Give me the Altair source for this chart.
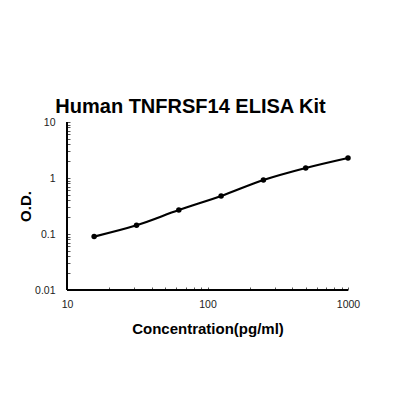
import altair as alt
import pandas as pd

conc = [15.6, 31.25, 62.5, 125, 250, 500, 1000]
od = [0.09, 0.143, 0.268, 0.477, 0.92, 1.51, 2.28]

x_ticks = [d * m for d in [10, 100] for m in range(1, 10)] + [1000]
y_ticks = [d * m for d in [0.01, 0.1, 1] for m in range(1, 10)] + [10]
x_domain = [10, 1000]
y_domain = [0.01, 10]

df = pd.DataFrame({"conc": conc, "od": od})

FONT = "Liberation Sans"

xscale = alt.Scale(type="log", domain=x_domain)
yscale = alt.Scale(type="log", domain=y_domain)

x_axis = alt.Axis(
    values=x_ticks, format="~g",
    labelExpr="datum.value == 10 || datum.value == 100 || datum.value == 1000 ? datum.label : ''",
    labelOverlap=False, labelFlush=False, grid=False, domain=False,
    offset=-3, tickSize=3, tickColor="#555", labelPadding=9,
    labelFontSize=10.5, labelColor="#222", labelFont=FONT,
    title="Concentration(pg/ml)", titleFont=FONT, titleFontSize=15,
    titleFontWeight="bold", titleColor="black", titlePadding=12,
)
y_axis = alt.Axis(
    values=y_ticks, format="~g",
    labelExpr="datum.value == 0.01 || datum.value == 0.1 || datum.value == 1 || datum.value == 10 ? datum.label : ''",
    labelOverlap=False, labelFlush=False, grid=False, domain=False,
    offset=-3, tickSize=3, tickColor="#555", labelPadding=12,
    labelFontSize=10.5, labelColor="#222", labelFont=FONT,
    title="O.D.", titleFont=FONT, titleFontSize=15,
    titleFontWeight="bold", titleColor="black", titlePadding=1,
)

base = alt.Chart(df)

line = base.mark_line(color="black", strokeWidth=2.2, interpolate="monotone").encode(
    x=alt.X("conc:Q", scale=xscale, axis=x_axis),
    y=alt.Y("od:Q", scale=yscale, axis=y_axis),
)
pts = base.mark_circle(color="black", size=30, opacity=1).encode(
    x=alt.X("conc:Q", scale=xscale, axis=x_axis),
    y=alt.Y("od:Q", scale=yscale, axis=y_axis),
)
# axis lines drawn through the scales at the domain ends
x_line = base.mark_rule(color="black", strokeWidth=1).encode(
    x=alt.datum(x_domain[0], scale=xscale, axis=x_axis),
    x2=alt.datum(x_domain[1]),
    y=alt.datum(y_domain[0], scale=yscale, axis=y_axis),
)
y_line = base.mark_rule(color="black", strokeWidth=1).encode(
    x=alt.datum(x_domain[0], scale=xscale, axis=x_axis),
    y=alt.datum(y_domain[0], scale=yscale, axis=y_axis),
    y2=alt.datum(y_domain[1]),
)

chart = (
    alt.layer(x_line, y_line, line, pts)
    .properties(
        width=281,
        height=168,
        view=alt.ViewBackground(stroke="transparent", strokeWidth=0, strokeOpacity=0),
        title=alt.TitleParams(
            "Human TNFRSF14 ELISA Kit", font=FONT, fontSize=20, fontWeight="bold",
            color="black", anchor="middle", frame="group", baseline="alphabetic",
            offset=9, dx=-17, dy=25,
        ),
        autosize=alt.AutoSizeParams(type="none"),
        padding={"left": 59, "top": 114, "right": 60, "bottom": 120},
    )
    .configure_view(stroke="transparent", strokeWidth=0, strokeOpacity=0)
    .configure(background="white")
)

chart.save("out.html", embed_options={"renderer": "svg", "actions": False})
